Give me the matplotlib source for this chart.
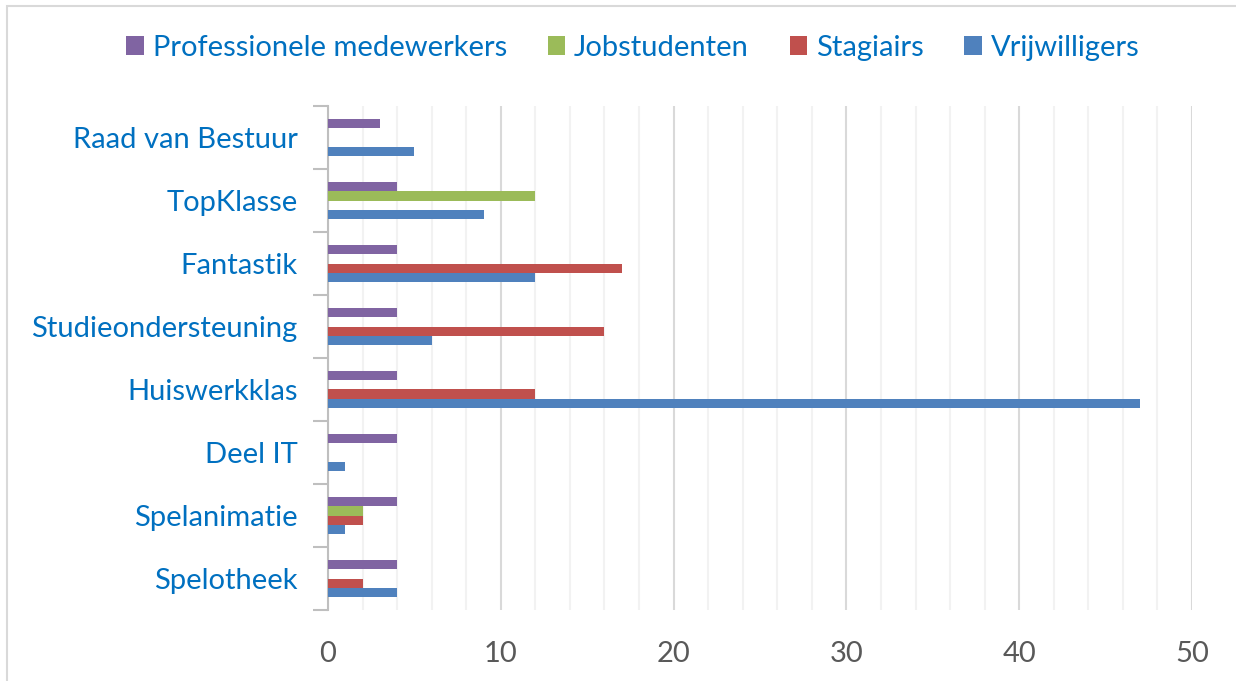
import matplotlib.pyplot as plt
import numpy as np
from matplotlib.patches import Rectangle
from matplotlib.ticker import MultipleLocator, FixedLocator

categories = ["Spelotheek", "Spelanimatie", "Deel IT", "Huiswerkklas",
              "Studieondersteuning", "Fantastik", "TopKlasse", "Raad van Bestuur"]
series = ["Vrijwilligers", "Stagiairs", "Jobstudenten", "Professionele medewerkers"]
vrijwilligers = [4, 1, 1, 47, 6, 12, 9, 5]
stagiairs = [2, 2, 0, 12, 16, 17, 0, 0]
jobstudenten = [0, 2, 0, 0, 0, 0, 12, 0]
professionele = [4, 4, 4, 4, 4, 4, 4, 3]
colors = ["#4F81BD", "#C0504D", "#9BBB59", "#8064A2"]

values = [vrijwilligers, stagiairs, jobstudenten, professionele]

plt.rcParams['font.family'] = ['Lato', 'DejaVu Sans']

fig = plt.figure(figsize=(12.36, 6.81), dpi=100)
ax = fig.add_axes([328 / 1236, 1 - 610 / 681, (1192 - 328) / 1236, (610 - 106) / 681])

# border round the chart
fig.patches.append(Rectangle((7 / 1236, -0.01), 1.1, 1 - 6 / 681 + 0.01, transform=fig.transFigure,
                             fill=False, edgecolor="#D9D9D9", linewidth=1.5))

y = np.arange(len(categories))
h = 0.148
handles = {}
for i, (name, vals, col) in enumerate(zip(series, values, colors)):
    off = (i - 1.5) * h
    handles[name] = ax.barh(y + off, vals, height=h, color=col, zorder=3)

ax.set_xlim(0, 50)
ax.set_ylim(-0.5, len(categories) - 0.5)
ax.xaxis.set_major_locator(MultipleLocator(10))
ax.xaxis.set_minor_locator(MultipleLocator(2))
ax.grid(axis="x", which="major", color="#D9D9D9", linewidth=1.5, zorder=0)
ax.grid(axis="x", which="minor", color="#F2F2F2", linewidth=1.5, zorder=0)

ax.set_yticks(y)
ax.set_yticklabels(categories, fontsize=21, color="#0070C0")
ax.yaxis.set_minor_locator(FixedLocator(np.arange(-0.5, len(categories), 1)))
ax.tick_params(axis="y", which="major", length=0, pad=22)
ax.tick_params(axis="y", which="minor", length=11, color="#BFBFBF", width=1.5)
ax.tick_params(axis="x", which="both", length=0, labelsize=21, labelcolor="#595959", pad=22)

for s in ["top", "right", "bottom"]:
    ax.spines[s].set_visible(False)
ax.spines["left"].set_color("#BFBFBF")
ax.spines["left"].set_linewidth(1.5)

order = ["Professionele medewerkers", "Jobstudenten", "Stagiairs", "Vrijwilligers"]
leg = fig.legend([handles[n] for n in order], order, loc="center",
                 bbox_to_anchor=(0.512, 1 - 48 / 681),
                 ncol=4, frameon=False, fontsize=21, handlelength=0.6, handleheight=0.6,
                 handletextpad=0.3, columnspacing=1.4)
for t in leg.get_texts():
    t.set_color("#0070C0")

fig.savefig("out.png", dpi=100)
